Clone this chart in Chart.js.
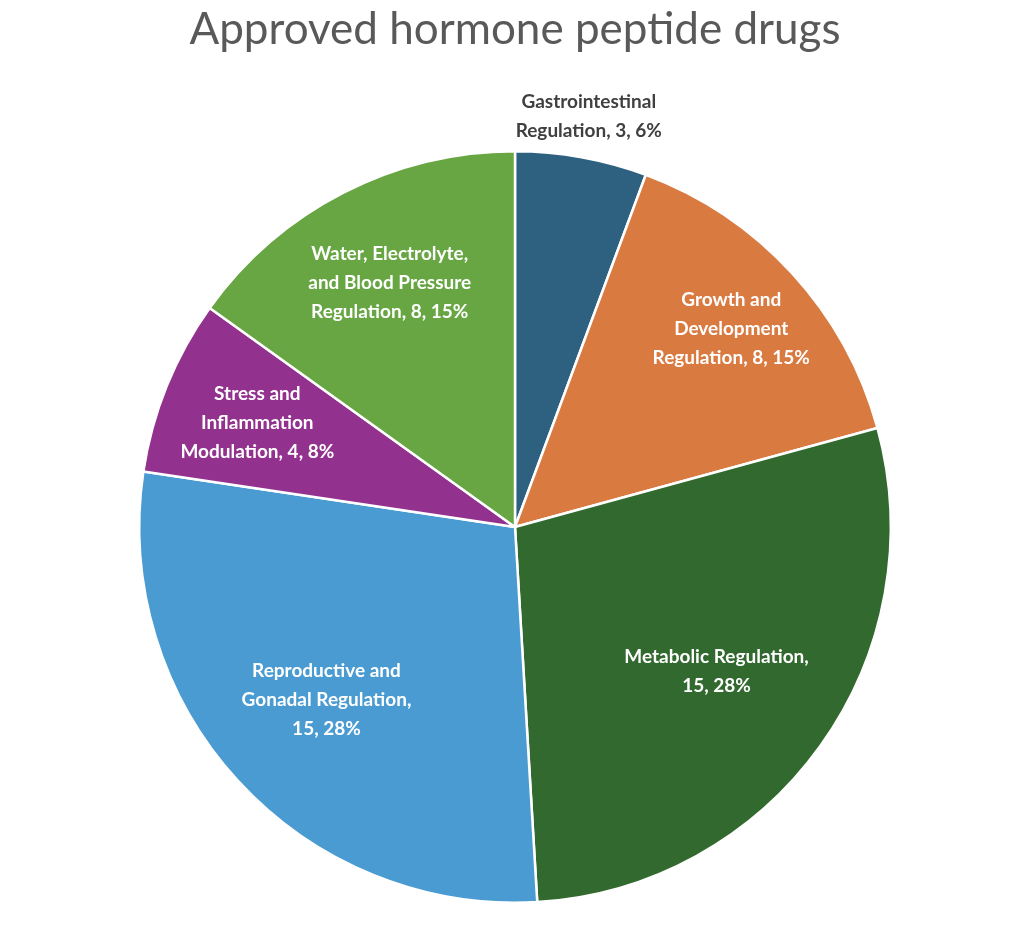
<!DOCTYPE html>
<html>
<head>
<meta charset="utf-8">
<script src="https://cdn.jsdelivr.net/npm/chart.js@4"></script>
<style>
  html, body { margin: 0; padding: 0; background: #fff; }
  #wrap { width: 1032px; height: 950px; position: relative; }
</style>
</head>
<body>
<div id="wrap"><canvas id="pieChart" width="1032" height="950"></canvas></div>
<script>
// --- data ---
const categories = [
    'Gastrointestinal Regulation',
    'Growth and Development Regulation',
    'Metabolic Regulation',
    'Reproductive and Gonadal Regulation',
    'Stress and Inflammation Modulation',
    'Water, Electrolyte, and Blood Pressure Regulation'
];
const counts = [3, 8, 15, 15, 4, 8];
const percents = ['6%', '15%', '28%', '28%', '8%', '15%'];
const sliceColors = ['#2E6080', '#D97A41', '#32692E', '#4A9BD1', '#93328E', '#67A642'];

// label line breaks as shown in the picture
const labelLines = [
    ['Gastrointestinal', 'Regulation, 3, 6%'],
    ['Growth and', 'Development', 'Regulation, 8, 15%'],
    ['Metabolic Regulation,', '15, 28%'],
    ['Reproductive and', 'Gonadal Regulation,', '15, 28%'],
    ['Stress and', 'Inflammation', 'Modulation, 4, 8%'],
    ['Water, Electrolyte,', 'and Blood Pressure', 'Regulation, 8, 15%']
];
const labelRadius = [1.11, 0.78, 0.66, 0.68, 0.74, 0.73];

const sliceLabels = {
    id: 'sliceLabels',
    afterDatasetsDraw(chart) {
        const ctx = chart.ctx;
        const arcs = chart.getDatasetMeta(0).data;
        ctx.save();
        ctx.font = 'bold 19px Lato, "Open Sans", sans-serif';
        ctx.textAlign = 'center';
        ctx.textBaseline = 'middle';
        arcs.forEach((arc, i) => {
            const mid = (arc.startAngle + arc.endAngle) / 2;
            const r = arc.outerRadius * labelRadius[i];
            const x = arc.x + Math.cos(mid) * r;
            const y = arc.y + Math.sin(mid) * r;
            const lines = labelLines[i];
            const lh = 29;
            ctx.fillStyle = i === 0 ? '#404040' : '#ffffff';
            lines.forEach((t, k) => {
                ctx.fillText(t, x, y + (k - (lines.length - 1) / 2) * lh);
            });
        });
        // title
        ctx.font = '44px Lato, "Open Sans", sans-serif';
        ctx.fillStyle = '#595959';
        ctx.fillText('Approved hormone peptide drugs', 515, 30);
        ctx.restore();
    }
};

new Chart(document.getElementById('pieChart'), {
    type: 'pie',
    data: {
        labels: categories,
        datasets: [{
            data: counts,
            backgroundColor: sliceColors,
            borderColor: '#ffffff',
            borderWidth: 2.5
        }]
    },
    options: {
        responsive: false,
        animation: false,
        layout: { padding: { left: 138, right: 140, top: 150, bottom: 46 } },
        plugins: {
            legend: { display: false },
            tooltip: { enabled: false }
        }
    },
    plugins: [sliceLabels]
});
</script>
</body>
</html>
